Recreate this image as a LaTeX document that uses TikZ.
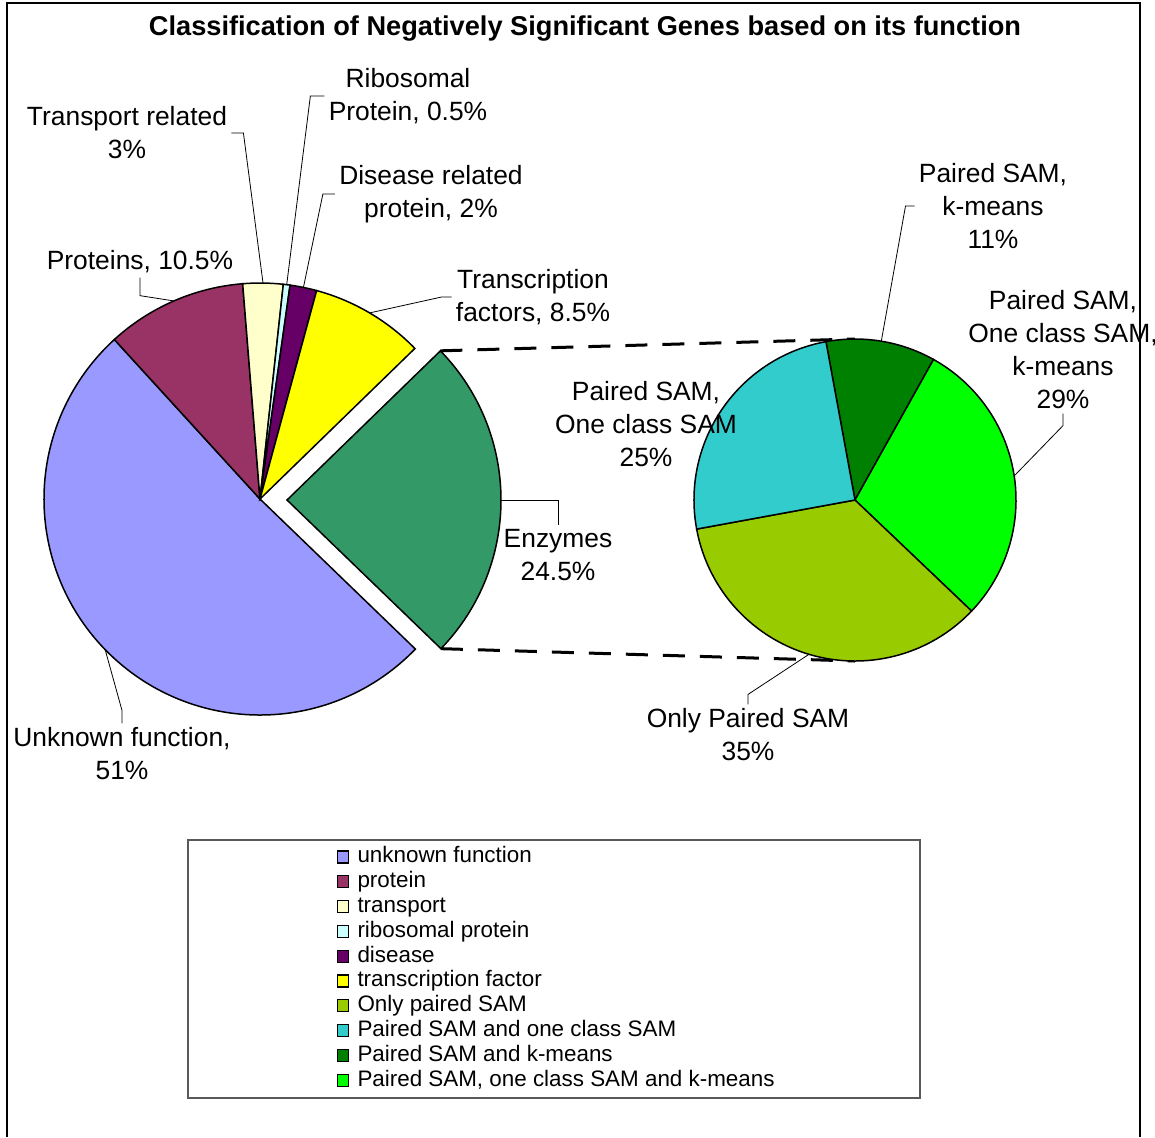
\documentclass[tikz,border=0pt]{standalone}
\usepackage{fontspec}
\setmainfont{Liberation Sans}
\usetikzlibrary{calc,positioning}
\definecolor{unknowncol}{HTML}{9999FF}
\definecolor{proteincol}{HTML}{993366}
\definecolor{transportcol}{HTML}{FFFFCC}
\definecolor{ribocol}{HTML}{CCFFFF}
\definecolor{diseasecol}{HTML}{660066}
\definecolor{tfcol}{HTML}{FFFF00}
\definecolor{enzymecol}{HTML}{339966}
\definecolor{onlycol}{HTML}{99CC00}
\definecolor{psoccol}{HTML}{33CCCC}
\definecolor{pskmcol}{HTML}{008000}
\definecolor{allcol}{HTML}{00FF00}
\tikzset{
  slice/.style={draw=black, line width=0.75pt},
  lbl/.style={align=center, inner sep=2pt, font=\fontsize{13.2}{16.5}\selectfont},
  leader/.style={draw=black, line width=0.4pt},
  zoomline/.style={line width=1.5pt, dash pattern=on 11pt off 7.5pt},
  key/.style={draw=black, line width=0.6pt, minimum width=5.5pt, minimum height=6pt, inner sep=0pt},
  keytext/.style={font=\fontsize{11.2}{12}\selectfont, inner sep=0pt, text height=8.2pt, text depth=2.4pt}
}

\begin{document}
\begin{tikzpicture}[x=0.5pt,y=-0.5pt]
    \useasboundingbox (0,0) rectangle (1155,1137);
    \coordinate (cL) at (260,499);
    \coordinate (cE) at (287,500);
    \coordinate (cR) at (855,500);
    % main pie, enzymes pulled out
    \foreach \a/\b/\c in {44/227.6/unknowncol, 227.6/265.4/proteincol, 265.4/276.2/transportcol,
        276.2/278/ribocol, 278/285.2/diseasecol, 285.2/315.8/tfcol}
        \draw[slice,fill=\c] (cL) -- ++(\a:216) arc[start angle=\a, end angle=\b, radius=216] -- cycle;
    \draw[slice,fill=enzymecol] (cE) -- ++(315.8:214) arc[start angle=315.8, end angle=404, radius=214] -- cycle;
    \coordinate (ezT) at ($(cE)+(315.8:214)$);
    \coordinate (ezB) at ($(cE)+(44:214)$);
    \coordinate (rT) at ($(cR)+(270:161)$);
    \coordinate (rB) at ($(cR)+(90:161)$);
    \draw[zoomline] (ezT) -- (rT);
    \draw[zoomline] (ezB) -- (rB);
    % pie of enzymes
    \foreach \a/\b/\c in {259.6/299.2/pskmcol, 299.2/403.6/allcol, 43.6/169.6/onlycol, 169.6/259.6/psoccol}
        \draw[slice,fill=\c] (cR) -- ++(\a:161) arc[start angle=\a, end angle=\b, radius=161] -- cycle;
    % where the leaders end
    \coordinate (pUnk) at ($(cL)+(135.8:216)$);
    \coordinate (pPro) at ($(cL)+(246.5:216)$);
    \coordinate (pTra) at ($(cL)+(270.8:216)$);
    \coordinate (pRib) at ($(cL)+(277.1:216)$);
    \coordinate (pDis) at ($(cL)+(281.6:216)$);
    \coordinate (pTf) at ($(cL)+(300.5:216)$);
    \coordinate (pEnz) at ($(cE)+(0:214)$);
    \coordinate (pKm) at ($(cR)+(279.4:161)$);
    \coordinate (pAll) at ($(cR)+(351.4:161)$);
    \coordinate (pOnly) at ($(cR)+(106.6:161)$);
    % labels
    \node[font=\fontsize{13.6}{16}\selectfont\bfseries] (title) at (585,29)
        {Classification of Negatively Significant Genes based on its function};
    \node[lbl] (rib) at (408,96) {Ribosomal\\Protein, 0.5\%};
    \node[lbl] (tra) at (127,133) {Transport related\\3\%};
    \node[lbl] (dis) at (431,194) {Disease related\\protein, 2\%};
    \node[lbl] (pro) at (140,262) {Proteins, 10.5\%};
    \node[lbl] (tf) at (533,297) {Transcription\\factors, 8.5\%};
    \node[lbl] (enz) at (558,555) {Enzymes\\24.5\%};
    \node[lbl] (unk) at (122,754) {Unknown function,\\51\%};
    \node[lbl] (km) at (993,206) {Paired SAM,\\k-means\\11\%};
    \node[lbl] (all) at (1063,350) {Paired SAM,\\One class SAM,\\k-means\\29\%};
    \node[lbl] (psoc) at (646,424) {Paired SAM,\\One class SAM\\25\%};
    \node[lbl] (only) at (748,735) {Only Paired SAM\\35\%};
    \draw[leader] (rib.west) -- ++(-14,0) -- (pRib);
    \draw[leader] (tra.east) -- ++(12,0) -- (pTra);
    \draw[leader] (dis.west) -- ++(-12,0) -- (pDis);
    \draw[leader] (pro.south) -- ++(0,18) -- (pPro);
    \draw[leader] (tf.west) -- ++(-10,0) -- (pTf);
    \draw[leader] (enz.north) |- (pEnz);
    \draw[leader] (unk.north) -- ++(0,-13) -- (pUnk);
    \draw[leader] (km.west) -- ++(-9,0) -- (pKm);
    \draw[leader] (all.south) -- ++(0,12) -- (pAll);
    \draw[leader] (only.north) -- ++(0,-10) -- (pOnly);
    % legend
    \draw[black!65, line width=0.6pt] (188,840) rectangle (920,1098);
    \foreach \c/\txt [count=\i] in {unknowncol/unknown function, proteincol/protein, transportcol/transport,
        ribocol/ribosomal protein, diseasecol/disease, tfcol/transcription factor, onlycol/Only paired SAM,
        psoccol/Paired SAM and one class SAM, pskmcol/Paired SAM and k-means,
        allcol/{Paired SAM, one class SAM and k-means}} {
        \node[key,fill=\c] (k\i) at (343,{857+(\i-1)*24.8}) {};
        \node[keytext,right=4pt of k\i] (t\i) {\txt};
    }
    % frame
    \draw[line width=1pt] (7,1137) -- (7,3) -- (1140,3) -- (1140,1137);
\end{tikzpicture}
\end{document}
